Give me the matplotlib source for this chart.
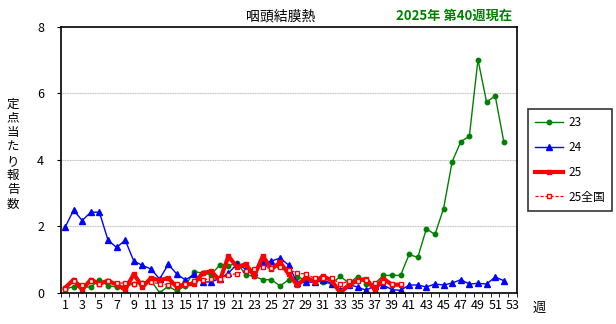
import matplotlib
matplotlib.use("Agg")
import matplotlib.pyplot as plt
import numpy as np

plt.rcParams['font.family'] = ['Noto Sans CJK JP', 'DejaVu Sans']

weeks = np.arange(1, 54)
tick_weeks = list(range(1, 54, 2))

# 定点当たり報告数 (週別)
y23 = [0.12, 0.19, 0.18, 0.18, 0.39, 0.22, 0.18, 0.2, 0.28, 0.3,
       0.37, 0.01, 0.2, 0.06, 0.22, 0.64, 0.6, 0.55, 0.85, 0.82,
       0.9, 0.55, 0.5, 0.4, 0.4, 0.21, 0.4, 0.48, 0.4, 0.37,
       0.32, 0.28, 0.5, 0.3, 0.49, 0.28, 0.28, 0.53, 0.53, 0.53,
       1.16, 1.07, 1.93, 1.76, 2.54, 3.95, 4.55, 4.72, 7.02, 5.74,
       5.93, 4.55]
y24 = [1.97, 2.49, 2.18, 2.43, 2.43, 1.59, 1.37, 1.59, 0.96, 0.83,
       0.72, 0.42, 0.86, 0.57, 0.39, 0.56, 0.32, 0.34, 0.43, 0.6,
       0.87, 0.72, 0.64, 0.91, 0.96, 1.05, 0.84, 0.3, 0.32, 0.33,
       0.4, 0.28, 0.1, 0.25, 0.18, 0.08, 0.22, 0.24, 0.1, 0.08,
       0.24, 0.24, 0.18, 0.27, 0.24, 0.3, 0.4, 0.27, 0.29, 0.27,
       0.48, 0.37]
y25 = [0.15, 0.4, 0.1, 0.4, 0.28, 0.37, 0.25, 0.1, 0.57, 0.18,
       0.45, 0.38, 0.45, 0.18, 0.25, 0.28, 0.6, 0.65, 0.38, 1.11,
       0.77, 0.87, 0.52, 1.11, 0.72, 0.92, 0.57, 0.23, 0.47, 0.34,
       0.51, 0.37, 0.01, 0.24, 0.38, 0.42, 0.1, 0.43, 0.25, 0.25]
y25_nat = [0.13, 0.35, 0.25, 0.37, 0.28, 0.35, 0.3, 0.3, 0.28, 0.3,
           0.32, 0.28, 0.25, 0.27, 0.27, 0.35, 0.4, 0.42, 0.42, 0.55,
           0.58, 0.67, 0.72, 0.77, 0.75, 0.77, 0.7, 0.6, 0.57, 0.45,
           0.45, 0.45, 0.28, 0.35, 0.37, 0.38, 0.31, 0.33, 0.27, 0.26]

ylabel = '定点当たり報告数'

W, H = 616, 324
fig = plt.figure(figsize=(W / 100, H / 100), dpi=100)
ax = fig.add_axes([0.0985, 0.0957, 0.7403, 0.821])

ax.plot(weeks[:len(y23)], y23, color='#008000', lw=1, marker='o', ms=3.2, label='23')
ax.plot(weeks[:len(y24)], y24, color='#0000ff', lw=1, marker='^', ms=4.5, label='24')
ax.plot(weeks[:len(y25)], y25, color='#ff0000', lw=3, marker='s', ms=2.5, label='25')
ax.plot(weeks[:len(y25_nat)], y25_nat, color='#ff0000', lw=0.9, ls=(0, (2.5, 1.5)),
        marker='s', ms=3.5, mfc='white', mec='#ff0000', mew=1, label='25全国')

ax.set_xlim(0.5, 53.5)
ax.set_ylim(0, 8)
ax.set_yticks([0, 2, 4, 6, 8])
ax.set_xticks(tick_weeks)
ax.set_xticks(np.arange(0.5, 54, 1), minor=True)
ax.tick_params(axis='x', which='major', length=0, labelsize=9, pad=4)
ax.tick_params(axis='x', which='minor', length=3, direction='out')
ax.tick_params(axis='y', length=3, direction='out', labelsize=9, pad=14)
for yl in ax.get_yticklabels():
    yl.set_horizontalalignment('left')

for g in [2, 4, 6]:
    ax.axhline(g, color='#c0c0c0', lw=0.8, ls=(0, (1, 0.5)), zorder=0)

for s in ax.spines.values():
    s.set_linewidth(1.2)

fig.text(0.455, 0.95, '咽頭結膜熱', fontsize=10, ha='center', va='center')
fig.text(0.737, 0.95, '2025年 第40週現在', fontsize=9.5, color='#008000',
         fontweight='bold', ha='center', va='center')
# 縦書きの軸ラベル: 一文字ずつ並べる
for i, ch in enumerate(ylabel):
    fig.text(13 / W, 1 - (104 + i * 14.3) / H, ch, fontsize=9,
             ha='center', va='center')
fig.text(0.876, 0.048, '週', fontsize=9.5, ha='center', va='center')

leg = ax.legend(loc='upper left', bbox_to_anchor=(528 / W, 1 - 109 / H),
                bbox_transform=fig.transFigure, borderaxespad=0,
                frameon=True, fancybox=False, edgecolor='black', fontsize=8.5,
                handlelength=2.4, labelspacing=1.0, borderpad=0.6,
                handletextpad=0.4)
leg.get_frame().set_linewidth(1.2)

fig.savefig('out.png', dpi=100)
